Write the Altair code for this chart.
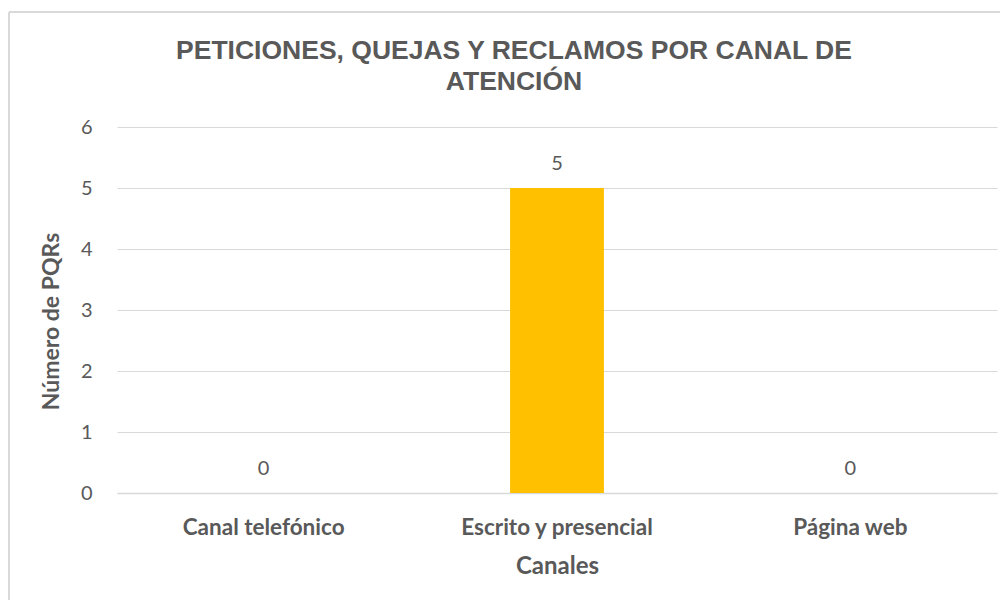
import altair as alt
import pandas as pd

canales = ["Canal telefónico", "Escrito y presencial", "Página web"]
pqrs = [0, 5, 0]
y_ticks = [0, 1, 2, 3, 4, 5, 6]
title_lines = ["PETICIONES, QUEJAS Y RECLAMOS POR CANAL DE", "ATENCIÓN"]

df = pd.DataFrame({"Canal": canales, "PQRs": pqrs})

GRAY = "#595959"
GRID = "#D9D9D9"

x_enc = alt.X(
    "Canal:N", sort=canales, title="Canales",
    scale=alt.Scale(paddingInner=0.68, paddingOuter=0.34),
    axis=alt.Axis(labelAngle=0, labelFont="Lato", labelFontWeight="bold", labelFontSize=22.5,
                  labelLimit=400, labelColor=GRAY, labelPadding=23, ticks=False,
                  domainColor=GRID, domainWidth=1.5,
                  titleFont="Lato", titleFontSize=24, titleFontWeight="bold", titleColor=GRAY,
                  titlePadding=16, grid=False),
)
y_enc = alt.Y(
    "PQRs:Q", title="Número de PQRs",
    scale=alt.Scale(domain=[0, 6], nice=False),
    axis=alt.Axis(values=y_ticks, format="d", labelFont="Lato", labelFontSize=20, labelColor=GRAY,
                  labelPadding=25, ticks=False, domain=False, gridColor=GRID, gridWidth=1.2,
                  titleFont="Lato", titleFontSize=23, titleFontWeight="bold", titleColor=GRAY,
                  titlePadding=17, titleY=194),
)

base = alt.Chart(df)
bars = base.mark_bar(color="#FFC000").encode(x=x_enc, y=y_enc)
labels = base.mark_text(font="Lato", fontSize=20, color=GRAY, baseline="bottom", dy=-14).encode(
    x=alt.X("Canal:N", sort=canales), y=alt.Y("PQRs:Q"), text=alt.Text("PQRs:Q")
)

frame_df = pd.DataFrame({"k": [0]})
left_border = alt.Chart(frame_df).mark_rule(color=GRID, strokeWidth=2).encode(
    x=alt.value(-108), y=alt.value(-115), y2=alt.value(473)
)
top_border = alt.Chart(frame_df).mark_rule(color=GRID, strokeWidth=2).encode(
    x=alt.value(-108), x2=alt.value(883), y=alt.value(-115)
)

chart = alt.layer(bars, labels, left_border, top_border).properties(
    width=880, height=366,
    title=alt.Title(title_lines, anchor="middle", dx=-43, fontSize=26.5, font="Liberation Sans",
                    fontWeight="bold", color=GRAY, lineHeight=31, offset=-84),
    autosize=alt.AutoSizeParams(type="none"),
    padding={"left": 109, "top": 119, "right": 3, "bottom": 107},
).configure_view(stroke=None)

chart.save("out.html", embed_options={"renderer": "svg", "actions": False})
